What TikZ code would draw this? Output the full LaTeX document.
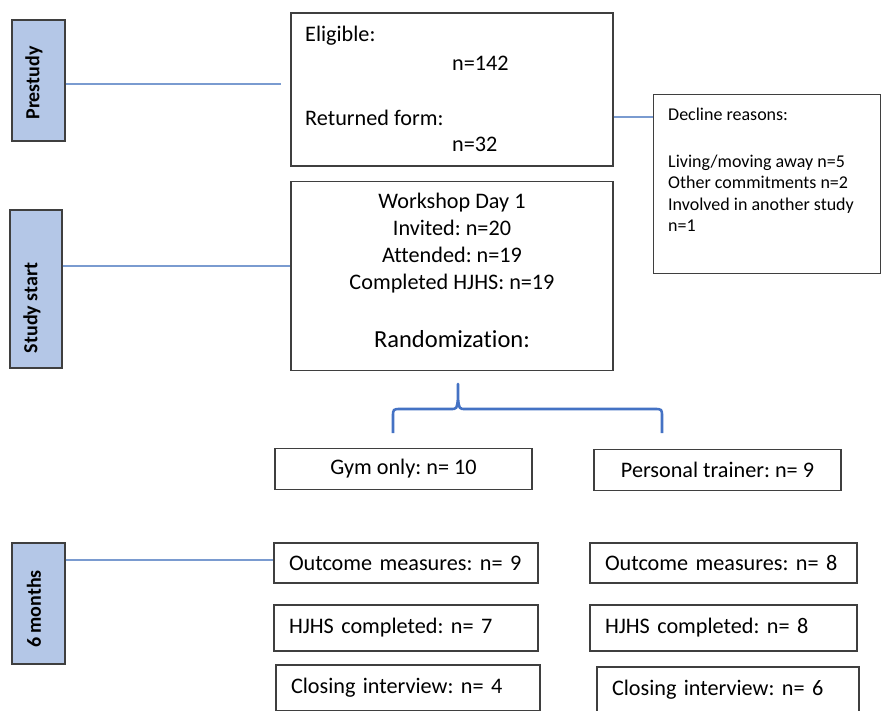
\documentclass[tikz,border=0pt]{standalone}
\usepackage{fontspec}
\setmainfont{Carlito}[Ligatures=NoCommon]
\frenchspacing
\usetikzlibrary{positioning}
\definecolor{lanefill}{HTML}{B4C7E7}
\definecolor{linkblue}{HTML}{7A9BD0}
\definecolor{bracketblue}{HTML}{4472C4}
\definecolor{boxline}{HTML}{3F3F3F}

\begin{document}
\begin{tikzpicture}[x=1pt, y=-1pt,
    base/.style={draw=boxline, line width=1.4pt, inner sep=0pt},
    lane/.style={base, fill=lanefill, minimum width=53pt},
    lanetext/.style={rotate=90, inner sep=0pt, font=\fontsize{20}{20}\selectfont\bfseries},
    txt/.style={inner sep=0pt, font=\fontsize{22.2}{27}\selectfont},
    small/.style={inner sep=0pt, font=\fontsize{18}{21.5}\selectfont},
    proc/.style={base, txt, minimum height=41pt},
    leftbox/.style={base, txt, minimum height=46pt, inner xsep=15pt, text width=#1, align=left},
    link/.style={draw=linkblue, line width=1.1pt},
    brace/.style={draw=bracketblue, line width=2.6pt, line join=round}]

\clip (0,0) rectangle (881,710);

\node [lane, minimum height=121pt] (pre) at (38.5,80.5) {};
\node [lanetext] (pretxt) at (34,83) {Prestudy};
\node [lane, minimum width=52pt, minimum height=158pt] (start) at (36,289) {};
\node [lanetext] (starttxt) at (32,308) {Study start};
\node [lane, minimum height=121pt] (six) at (38.5,603.5) {};
\node [lanetext] (sixtxt) at (34,609) {6 months};

\node [base, minimum width=322pt, minimum height=153pt] (elig) at (452,89.5) {};
\node [txt, anchor=west] (eligl) at (305,36) {Eligible:};
\node [txt, anchor=west] (elign) at (452,63) {n=142};
\node [txt, anchor=west] (retl) at (305,118) {Returned form:};
\node [txt, anchor=west] (retn) at (452,144) {n=32};

\node [base, minimum width=322pt, minimum height=189pt, below=14pt of elig] (work) {};
\node [txt, align=center] (worktxt) at (452,243) {Workshop Day 1\\Invited: n=20\\Attended: n=19\\Completed HJHS: n=19};
\node [inner sep=0pt, font=\fontsize{24.5}{24.5}\selectfont] (rand) at (452,339) {Randomization:};

\node [base, minimum width=227pt, minimum height=179pt, anchor=north west] (decl) at (653,94) {};
\node [small, anchor=west] (declhead) at (668,114) {Decline reasons:};
\node [small, anchor=west, align=left] (decllist) at (668,193) {Living/moving away n=5\\Other commitments n=2\\Involved in another study\\n=1};

\node [proc, minimum width=257pt] (gym) at (403.5,469) {Gym only: n= 10};
\node [proc, minimum width=247pt] (pt) at (717.5,470) {Personal trainer: n= 9};

\node [leftbox=234pt, minimum height=40pt] (outL) at (406,563) {Outcome measures: n= 9};
\node [leftbox=237pt, minimum height=40pt] (outR) at (723.5,563) {Outcome measures: n= 8};
\node [leftbox=234pt] (hjL) at (406,628) {HJHS completed: n= 7};
\node [leftbox=237pt] (hjR) at (723.5,628) {HJHS completed: n= 8};
\node [leftbox=234pt] (closeL) at (408,688) {Closing interview: n= 4};
\node [leftbox=232pt] (closeR) at (728,690) {Closing interview: n= 6};

\coordinate (preend) at (281,84);
\coordinate (startlink) at (0,266);
\coordinate (decllink) at (0,117);
\draw [link] (pre.east |- preend) -- (preend);
\draw [link] (start.east |- startlink) -- (work.west |- startlink);
\draw [link] (elig.east |- decllink) -- (decl.west |- decllink);
\draw [link] (six.east |- 0,560) -- (outL.west |- 0,560);

\coordinate (braceL) at (393,433);
\coordinate (braceR) at (662,433);
\coordinate (braceTip) at (458,384);
\draw [brace] (braceL) -- (393,417) .. controls (393,409) .. (401,409) -- (450,409) .. controls (457,409) .. (458,398) -- (braceTip)
  -- (458,398) .. controls (459,409) .. (466,409) -- (654,409) .. controls (662,409) .. (662,417) -- (braceR);

\end{tikzpicture}
\end{document}
